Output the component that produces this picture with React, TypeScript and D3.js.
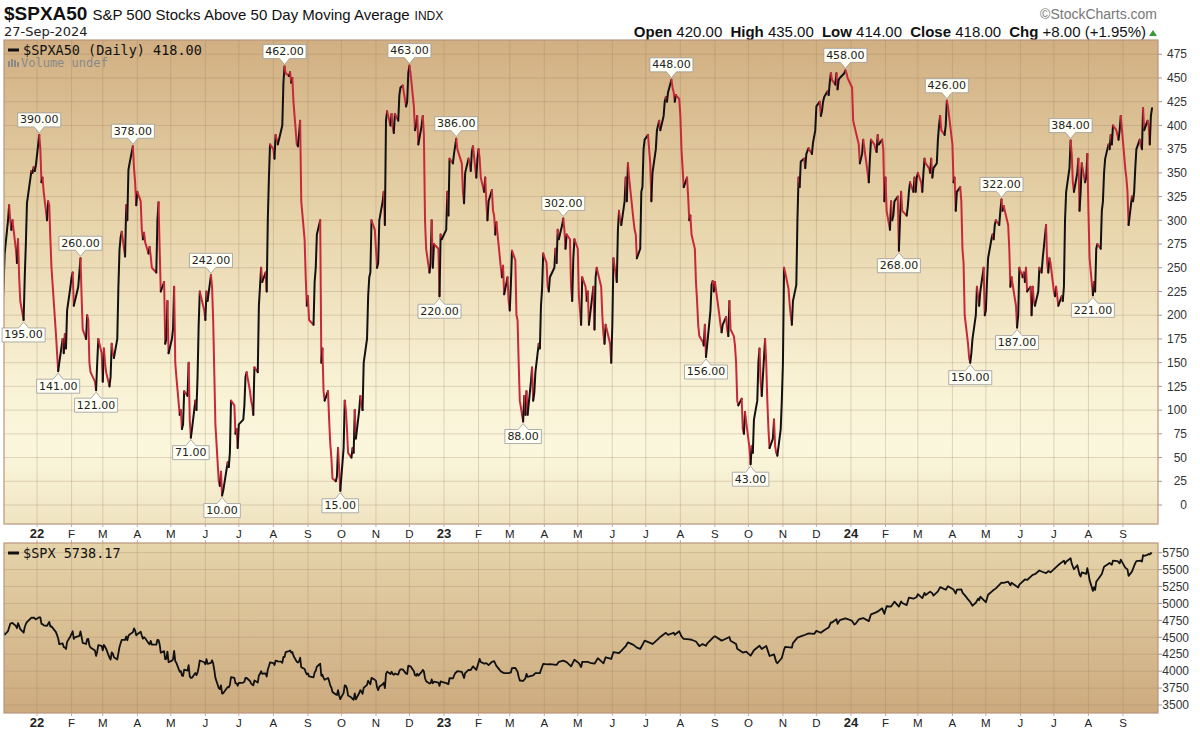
import React from "react";
import * as d3 from "d3";

type Row = [string, number];

// $SPXA50 daily closes (MM-DD, value) per year
const spxa50_2021: Row[] = [
  ["12-01",205],["12-02",230],["12-03",265],["12-06",300],["12-07",316],["12-08",300],["12-09",290],["12-10",300],
  ["12-13",270],["12-14",255],["12-15",280],["12-16",240],["12-17",215],["12-20",195],["12-21",240],["12-22",275],
  ["12-23",318],["12-27",352],["12-28",350],["12-29",356],["12-30",352],["12-31",358],
];
const spxa50_2022: Row[] = [
  ["01-03",390],["01-04",375],["01-05",340],["01-06",345],["01-07",330],["01-10",300],["01-11",320],["01-12",316],
  ["01-13",280],["01-14",250],["01-18",180],["01-19",160],["01-20",141],["01-21",150],["01-24",175],["01-25",160],
  ["01-26",180],["01-27",165],["01-28",205],["01-31",230],["02-01",240],["02-02",245],["02-03",210],["02-04",215],
  ["02-07",230],["02-08",245],["02-09",260],["02-10",220],["02-11",185],["02-14",175],["02-15",200],["02-16",195],
  ["02-17",150],["02-18",140],["02-22",130],["02-23",121],["02-24",150],["02-25",175],["02-28",160],["03-01",130],
  ["03-02",165],["03-03",150],["03-04",140],["03-07",125],["03-08",135],["03-09",170],["03-10",160],["03-11",155],
  ["03-14",175],["03-15",230],["03-16",269],["03-17",282],["03-18",288],["03-21",262],["03-22",316],["03-23",300],
  ["03-24",353],["03-25",360],["03-28",378],["03-29",355],["03-30",340],["03-31",316],["04-01",330],["04-04",320],
  ["04-05",290],["04-06",280],["04-07",287],["04-08",277],["04-11",265],["04-12",272],["04-13",262],["04-14",250],
  ["04-18",245],["04-19",300],["04-20",319],["04-21",270],["04-22",225],["04-25",235],["04-26",170],["04-27",175],
  ["04-28",215],["04-29",160],["05-02",175],["05-03",185],["05-04",230],["05-05",150],["05-06",135],["05-09",95],
  ["05-10",100],["05-11",80],["05-12",85],["05-13",120],["05-16",115],["05-17",150],["05-18",90],["05-19",71],
  ["05-20",80],["05-23",110],["05-24",100],["05-25",135],["05-26",190],["05-27",225],["05-31",205],["06-01",195],
  ["06-02",225],["06-03",215],["06-06",242],["06-07",230],["06-08",195],["06-09",140],["06-10",85],["06-13",25],
  ["06-14",20],["06-15",35],["06-16",10],["06-17",15],["06-21",45],["06-22",40],["06-23",55],["06-24",110],
  ["06-27",105],["06-28",75],["06-29",80],["06-30",60],["07-01",85],["07-05",90],["07-06",105],["07-07",135],
  ["07-08",140],["07-11",120],["07-12",110],["07-13",105],["07-14",95],["07-15",145],["07-18",140],["07-19",210],
  ["07-20",230],["07-21",250],["07-22",235],["07-25",245],["07-26",225],["07-27",300],["07-28",345],["07-29",380],
  ["08-01",375],["08-02",365],["08-03",390],["08-04",385],["08-05",380],["08-08",395],["08-09",400],["08-10",445],
  ["08-11",462],["08-12",455],["08-15",452],["08-16",456],["08-17",445],["08-18",450],["08-19",425],["08-22",380],
  ["08-23",378],["08-24",390],["08-25",405],["08-26",320],["08-29",280],["08-30",240],["08-31",210],["09-01",220],
  ["09-02",195],["09-06",190],["09-07",235],["09-08",250],["09-09",285],["09-12",300],["09-13",150],["09-14",165],
  ["09-15",120],["09-16",110],["09-19",120],["09-20",90],["09-21",65],["09-22",50],["09-23",28],["09-26",25],
  ["09-27",30],["09-28",60],["09-29",38],["09-30",15],["10-03",60],["10-04",110],["10-05",100],["10-06",80],
  ["10-07",55],["10-10",50],["10-11",60],["10-12",55],["10-13",100],["10-14",70],["10-17",100],["10-18",115],
  ["10-19",105],["10-20",100],["10-21",150],["10-24",175],["10-25",220],["10-26",240],["10-27",245],["10-28",300],
  ["10-31",290],["11-01",270],["11-02",250],["11-03",255],["11-04",300],["11-07",320],["11-08",330],["11-09",295],
  ["11-10",405],["11-11",415],["11-14",400],["11-15",412],["11-16",398],["11-17",392],["11-18",412],["11-21",405],
  ["11-22",432],["11-23",440],["11-25",442],["11-28",420],["11-29",425],["11-30",455],["12-01",463],["12-02",455],
  ["12-05",420],["12-06",395],["12-07",400],["12-08",410],["12-09",380],["12-12",400],["12-13",410],["12-14",390],
  ["12-15",300],["12-16",270],["12-19",245],["12-20",255],["12-21",300],["12-22",250],["12-23",275],["12-27",270],
  ["12-28",220],["12-29",285],["12-30",280],
];
const spxa50_2023: Row[] = [
  ["01-03",290],["01-04",330],["01-05",305],["01-06",365],["01-09",360],["01-10",370],["01-11",378],["01-12",386],
  ["01-13",375],["01-17",360],["01-18",330],["01-19",318],["01-20",350],["01-23",365],["01-24",360],["01-25",352],
  ["01-26",372],["01-27",378],["01-30",345],["01-31",365],["02-01",375],["02-02",365],["02-03",345],["02-06",330],
  ["02-07",345],["02-08",318],["02-09",300],["02-10",320],["02-13",332],["02-14",310],["02-15",305],["02-16",285],
  ["02-17",298],["02-21",250],["02-22",240],["02-23",252],["02-24",222],["02-27",240],["02-28",215],["03-01",205],
  ["03-02",232],["03-03",268],["03-06",258],["03-07",200],["03-08",195],["03-09",150],["03-10",110],["03-13",88],
  ["03-14",115],["03-15",95],["03-16",120],["03-17",95],["03-20",130],["03-21",145],["03-22",110],["03-23",118],
  ["03-24",140],["03-27",170],["03-28",165],["03-29",210],["03-30",228],["03-31",265],["04-03",255],["04-04",230],
  ["04-05",225],["04-06",240],["04-10",250],["04-11",270],["04-12",255],["04-13",290],["04-14",280],["04-17",295],
  ["04-18",302],["04-19",290],["04-20",270],["04-21",285],["04-24",280],["04-25",230],["04-26",215],["04-27",260],
  ["04-28",280],["05-01",270],["05-02",220],["05-03",205],["05-04",190],["05-05",240],["05-08",230],["05-09",215],
  ["05-10",225],["05-11",190],["05-12",200],["05-15",230],["05-16",185],["05-17",240],["05-18",250],["05-19",245],
  ["05-22",230],["05-23",200],["05-24",180],["05-25",170],["05-26",190],["05-30",170],["05-31",150],["06-01",190],
  ["06-02",260],["06-05",235],["06-06",290],["06-07",310],["06-08",300],["06-09",295],["06-12",320],["06-13",345],
  ["06-14",320],["06-15",360],["06-16",345],["06-20",300],["06-21",290],["06-22",285],["06-23",260],["06-26",270],
  ["06-27",330],["06-28",335],["06-29",375],["06-30",385],["07-03",390],["07-05",360],["07-06",320],["07-07",350],
  ["07-10",375],["07-11",395],["07-12",400],["07-13",405],["07-14",395],["07-17",410],["07-18",425],["07-19",430],
  ["07-20",425],["07-21",435],["07-24",448],["07-25",440],["07-26",435],["07-27",425],["07-28",432],["07-31",428],
  ["08-01",410],["08-02",375],["08-03",355],["08-04",335],["08-07",345],["08-08",325],["08-09",300],["08-10",305],
  ["08-11",285],["08-14",270],["08-15",235],["08-16",215],["08-17",190],["08-18",178],["08-21",172],["08-22",168],
  ["08-23",190],["08-24",156],["08-25",168],["08-28",205],["08-29",232],["08-30",236],["08-31",225],["09-01",235],
  ["09-05",200],["09-06",190],["09-07",182],["09-08",190],["09-11",198],["09-12",185],["09-13",178],["09-14",215],
  ["09-15",185],["09-18",178],["09-19",168],["09-20",150],["09-21",110],["09-22",105],["09-25",112],["09-26",80],
  ["09-27",75],["09-28",98],["09-29",88],["10-02",60],["10-03",43],["10-04",62],["10-05",55],["10-06",90],
  ["10-09",110],["10-10",150],["10-11",165],["10-12",130],["10-13",115],["10-16",175],["10-17",150],["10-18",110],
  ["10-19",80],["10-20",60],["10-23",70],["10-24",90],["10-25",62],["10-26",55],["10-27",52],["10-30",80],
  ["10-31",110],["11-01",150],["11-02",250],["11-03",245],["11-06",228],["11-07",212],["11-08",200],["11-09",190],
  ["11-10",215],["11-13",232],["11-14",300],["11-15",345],["11-16",335],["11-17",362],["11-20",365],["11-21",355],
  ["11-22",370],["11-24",376],["11-27",370],["11-28",382],["11-29",388],["11-30",395],["12-01",420],["12-04",425],
  ["12-05",410],["12-06",415],["12-07",425],["12-08",430],["12-11",436],["12-12",432],["12-13",445],["12-14",455],
  ["12-15",448],["12-18",443],["12-19",455],["12-20",438],["12-21",448],["12-22",450],["12-26",455],["12-27",458],
  ["12-28",455],["12-29",450],
];
const spxa50_2024: Row[] = [
  ["01-02",440],["01-03",405],["01-04",400],["01-05",395],["01-08",380],["01-09",360],["01-10",365],["01-11",370],
  ["01-12",385],["01-16",350],["01-17",340],["01-18",365],["01-19",385],["01-22",380],["01-23",375],["01-24",372],
  ["01-25",390],["01-26",380],["01-29",385],["01-30",375],["01-31",320],["02-01",345],["02-02",310],["02-05",290],
  ["02-06",320],["02-07",300],["02-08",305],["02-09",320],["02-12",325],["02-13",268],["02-14",300],["02-15",330],
  ["02-16",310],["02-20",305],["02-21",315],["02-22",330],["02-23",340],["02-26",330],["02-27",345],["02-28",330],
  ["02-29",345],["03-01",350],["03-04",340],["03-05",330],["03-06",350],["03-07",365],["03-08",360],["03-11",355],
  ["03-12",350],["03-13",365],["03-14",345],["03-15",355],["03-18",360],["03-19",385],["03-20",400],["03-21",410],
  ["03-22",395],["03-25",390],["03-26",400],["03-27",426],["03-28",420],["04-01",380],["04-02",340],["04-03",345],
  ["04-04",310],["04-05",330],["04-08",335],["04-09",320],["04-10",270],["04-11",255],["04-12",200],["04-15",170],
  ["04-16",155],["04-17",150],["04-18",160],["04-19",175],["04-22",200],["04-23",230],["04-24",220],["04-25",210],
  ["04-26",225],["04-29",250],["04-30",200],["05-01",205],["05-02",235],["05-03",260],["05-06",280],["05-07",285],
  ["05-08",280],["05-09",295],["05-10",300],["05-13",295],["05-14",310],["05-15",322],["05-16",310],["05-17",315],
  ["05-20",300],["05-21",295],["05-22",270],["05-23",230],["05-24",240],["05-28",210],["05-29",187],["05-30",200],
  ["05-31",250],["06-03",240],["06-04",245],["06-05",235],["06-06",250],["06-07",225],["06-10",230],["06-11",200],
  ["06-12",230],["06-13",215],["06-14",210],["06-17",225],["06-18",250],["06-20",245],["06-21",260],["06-24",295],
  ["06-25",255],["06-26",245],["06-27",260],["06-28",255],["07-01",225],["07-02",220],["07-03",230],["07-05",210],
  ["07-08",220],["07-09",215],["07-10",230],["07-11",300],["07-12",330],["07-15",355],["07-16",384],["07-17",370],
  ["07-18",340],["07-19",330],["07-22",350],["07-23",365],["07-24",310],["07-25",330],["07-26",360],["07-29",340],
  ["07-30",345],["07-31",370],["08-01",310],["08-02",260],["08-05",221],["08-06",235],["08-07",225],["08-08",270],
  ["08-09",275],["08-12",270],["08-13",310],["08-14",320],["08-15",350],["08-16",365],["08-19",380],["08-20",375],
  ["08-21",390],["08-22",380],["08-23",400],["08-26",395],["08-27",390],["08-28",385],["08-29",395],["08-30",410],
  ["09-03",355],["09-04",345],["09-05",330],["09-06",295],["09-09",325],["09-10",320],["09-11",330],["09-12",355],
  ["09-13",375],["09-16",385],["09-17",378],["09-18",375],["09-19",418],["09-20",395],["09-23",405],["09-24",400],
  ["09-25",380],["09-26",410],["09-27",418],
];

// $SPX closes (MM-DD, value) per year
const spx_2021: Row[] = [
  ["12-01",4513],["12-02",4577],["12-03",4538],["12-06",4592],["12-08",4701],["12-10",4712],["12-13",4669],["12-14",4634],
  ["12-15",4709],["12-16",4668],["12-17",4620],["12-20",4568],["12-21",4649],["12-22",4697],["12-23",4725],["12-27",4791],
  ["12-28",4786],["12-29",4793],["12-30",4778],["12-31",4766],
];
const spx_2022: Row[] = [
  ["01-03",4796],["01-04",4793],["01-05",4700],["01-06",4696],["01-07",4677],["01-10",4670],["01-12",4726],["01-13",4659],
  ["01-14",4662],["01-18",4577],["01-19",4532],["01-20",4482],["01-21",4398],["01-24",4410],["01-25",4356],["01-26",4349],
  ["01-27",4326],["01-28",4432],["01-31",4516],["02-02",4589],["02-03",4477],["02-04",4500],["02-08",4521],["02-09",4587],
  ["02-10",4504],["02-11",4418],["02-14",4401],["02-15",4472],["02-16",4475],["02-17",4380],["02-18",4348],["02-22",4304],
  ["02-23",4225],["02-24",4288],["02-25",4385],["02-28",4374],["03-01",4306],["03-02",4387],["03-03",4363],["03-04",4329],
  ["03-07",4201],["03-08",4171],["03-09",4278],["03-10",4260],["03-11",4204],["03-14",4173],["03-15",4262],["03-16",4358],
  ["03-17",4412],["03-18",4463],["03-21",4461],["03-22",4512],["03-23",4457],["03-24",4520],["03-25",4543],["03-28",4575],
  ["03-29",4631],["03-30",4602],["03-31",4530],["04-01",4546],["04-04",4583],["04-05",4525],["04-06",4481],["04-07",4500],
  ["04-08",4488],["04-11",4413],["04-12",4397],["04-13",4447],["04-14",4392],["04-18",4391],["04-19",4463],["04-20",4459],
  ["04-21",4394],["04-22",4272],["04-25",4296],["04-26",4175],["04-27",4183],["04-28",4288],["04-29",4132],["05-02",4155],
  ["05-03",4175],["05-04",4300],["05-05",4147],["05-06",4123],["05-09",3991],["05-10",4001],["05-11",3935],["05-12",3930],
  ["05-13",4024],["05-16",4008],["05-17",4088],["05-18",3923],["05-19",3901],["05-20",3901],["05-23",3974],["05-24",3941],
  ["05-25",3979],["05-26",4058],["05-27",4158],["05-31",4132],["06-01",4101],["06-02",4177],["06-03",4109],["06-06",4121],
  ["06-07",4161],["06-08",4116],["06-09",4018],["06-10",3901],["06-13",3750],["06-14",3735],["06-15",3790],["06-16",3667],
  ["06-17",3675],["06-21",3765],["06-22",3760],["06-23",3796],["06-24",3912],["06-27",3900],["06-28",3821],["06-29",3819],
  ["06-30",3785],["07-01",3825],["07-05",3831],["07-06",3845],["07-07",3902],["07-08",3899],["07-11",3855],["07-12",3819],
  ["07-13",3802],["07-14",3790],["07-15",3863],["07-18",3831],["07-19",3937],["07-20",3960],["07-21",3999],["07-22",3962],
  ["07-25",3967],["07-26",3921],["07-27",4024],["07-28",4073],["07-29",4130],["08-01",4119],["08-02",4091],["08-03",4155],
  ["08-04",4152],["08-05",4145],["08-08",4140],["08-09",4122],["08-10",4210],["08-11",4207],["08-12",4280],["08-15",4297],
  ["08-16",4305],["08-17",4274],["08-18",4284],["08-19",4228],["08-22",4138],["08-23",4128],["08-24",4141],["08-25",4199],
  ["08-26",4058],["08-29",4031],["08-30",3986],["08-31",3955],["09-01",3967],["09-02",3924],["09-06",3908],["09-07",3980],
  ["09-08",4006],["09-09",4067],["09-12",4110],["09-13",3932],["09-14",3946],["09-15",3901],["09-16",3873],["09-19",3900],
  ["09-20",3856],["09-21",3790],["09-22",3758],["09-23",3693],["09-26",3655],["09-27",3647],["09-28",3719],["09-29",3640],
  ["09-30",3586],["10-03",3679],["10-04",3791],["10-05",3783],["10-06",3745],["10-07",3640],["10-10",3612],["10-11",3589],
  ["10-12",3577],["10-13",3670],["10-14",3583],["10-17",3677],["10-18",3720],["10-19",3695],["10-20",3665],["10-21",3752],
  ["10-24",3797],["10-25",3859],["10-26",3831],["10-27",3807],["10-28",3901],["10-31",3872],["11-01",3856],["11-02",3759],
  ["11-03",3720],["11-04",3771],["11-07",3807],["11-08",3828],["11-09",3749],["11-10",3956],["11-11",3993],["11-14",3957],
  ["11-15",3992],["11-16",3959],["11-17",3947],["11-18",3965],["11-21",3950],["11-22",4003],["11-23",4027],["11-25",4026],
  ["11-28",3964],["11-29",3958],["11-30",4080],["12-01",4076],["12-02",4072],["12-05",3999],["12-06",3941],["12-07",3933],
  ["12-08",3963],["12-09",3934],["12-12",3990],["12-13",4019],["12-14",3995],["12-15",3896],["12-16",3852],["12-19",3818],
  ["12-20",3822],["12-21",3878],["12-22",3822],["12-23",3845],["12-27",3829],["12-28",3783],["12-29",3849],["12-30",3840],
];
const spx_2023: Row[] = [
  ["01-03",3824],["01-05",3808],["01-06",3895],["01-09",3892],["01-11",3969],["01-13",3999],["01-17",3990],["01-19",3899],
  ["01-20",3972],["01-23",4019],["01-25",4016],["01-27",4071],["01-30",4018],["02-02",4180],["02-03",4136],["02-06",4111],
  ["02-08",4118],["02-10",4090],["02-13",4137],["02-15",4148],["02-17",4079],["02-21",3997],["02-24",3970],["02-28",3970],
  ["03-02",3981],["03-03",4046],["03-06",4048],["03-08",3992],["03-09",3918],["03-10",3862],["03-13",3855],["03-15",3892],
  ["03-16",3960],["03-17",3917],["03-22",3937],["03-24",3971],["03-28",3971],["03-31",4109],["04-04",4100],["04-06",4105],
  ["04-12",4092],["04-14",4138],["04-18",4155],["04-21",4133],["04-25",4071],["04-28",4169],["05-02",4119],["05-04",4061],
  ["05-05",4136],["05-10",4137],["05-12",4124],["05-16",4110],["05-19",4192],["05-24",4115],["05-26",4205],["05-31",4180],
  ["06-02",4282],["06-07",4268],["06-09",4299],["06-13",4369],["06-15",4426],["06-20",4388],["06-23",4348],["06-26",4328],
  ["06-30",4450],["07-06",4411],["07-07",4399],["07-12",4473],["07-14",4505],["07-19",4566],["07-21",4536],["07-26",4567],
  ["07-27",4537],["07-31",4589],["08-02",4513],["08-04",4478],["08-09",4468],["08-11",4464],["08-15",4438],["08-18",4370],
  ["08-21",4400],["08-24",4376],["08-25",4406],["08-31",4508],["09-01",4516],["09-07",4451],["09-08",4457],["09-14",4505],
  ["09-15",4450],["09-20",4402],["09-21",4330],["09-26",4274],["09-29",4288],["10-03",4229],["10-06",4308],["10-11",4376],
  ["10-13",4328],["10-17",4373],["10-20",4224],["10-24",4248],["10-26",4137],["10-27",4117],["10-31",4194],["11-02",4318],
  ["11-03",4358],["11-09",4347],["11-10",4415],["11-14",4496],["11-17",4514],["11-21",4538],["11-24",4559],["11-29",4551],
  ["12-01",4595],["12-05",4567],["12-08",4604],["12-12",4644],["12-14",4720],["12-15",4719],["12-19",4768],["12-20",4698],
  ["12-22",4754],["12-27",4781],["12-29",4770],
];
const spx_2024: Row[] = [
  ["01-02",4743],["01-04",4688],["01-05",4697],["01-08",4764],["01-11",4780],["01-12",4784],["01-17",4739],["01-19",4840],
  ["01-23",4865],["01-26",4891],["01-29",4928],["01-31",4846],["02-01",4906],["02-02",4959],["02-06",4954],["02-09",5027],
  ["02-13",4953],["02-15",5030],["02-16",5006],["02-20",4976],["02-22",5087],["02-26",5070],["02-29",5096],["03-01",5137],
  ["03-05",5079],["03-07",5157],["03-08",5124],["03-12",5175],["03-14",5150],["03-15",5117],["03-19",5179],["03-21",5241],
  ["03-22",5234],["03-26",5203],["03-28",5254],["04-02",5205],["04-04",5147],["04-05",5204],["04-09",5209],["04-10",5161],
  ["04-12",5123],["04-15",5061],["04-17",5022],["04-19",4967],["04-22",5011],["04-24",5071],["04-25",5048],["04-26",5100],
  ["04-30",5036],["05-01",5018],["05-03",5128],["05-07",5187],["05-10",5223],["05-15",5308],["05-17",5303],["05-21",5321],
  ["05-23",5268],["05-24",5305],["05-30",5236],["05-31",5278],["06-05",5354],["06-07",5347],["06-12",5421],["06-14",5432],
  ["06-18",5487],["06-21",5465],["06-24",5448],["06-26",5478],["06-28",5460],["07-03",5537],["07-05",5567],["07-10",5633],
  ["07-11",5585],["07-12",5615],["07-16",5667],["07-17",5589],["07-19",5505],["07-22",5564],["07-24",5427],["07-25",5399],
  ["07-26",5459],["07-30",5436],["07-31",5522],["08-01",5446],["08-02",5346],["08-05",5186],["08-06",5240],["08-07",5199],
  ["08-08",5319],["08-09",5344],["08-13",5434],["08-15",5543],["08-16",5554],["08-20",5597],["08-22",5571],["08-23",5634],
  ["08-27",5625],["08-29",5592],["08-30",5648],["09-03",5529],["09-05",5503],["09-06",5408],["09-09",5471],["09-11",5554],
  ["09-12",5596],["09-13",5626],["09-17",5634],["09-18",5618],["09-19",5713],["09-20",5703],["09-23",5718],["09-24",5732],
  ["09-25",5722],["09-26",5745],["09-27",5738],
];

// Annotated highs/lows
const annotationDates: string[] = [
  "2021-12-20","2022-01-03","2022-01-20","2022-02-09","2022-02-23","2022-03-28","2022-05-19","2022-06-06","2022-06-16",
  "2022-08-11","2022-09-30","2022-12-01","2022-12-28","2023-01-12","2023-03-13","2023-04-18","2023-07-24","2023-08-24",
  "2023-10-03","2023-12-27","2024-02-13","2024-03-27","2024-04-17","2024-05-15","2024-05-29","2024-07-16","2024-08-05",
];
const annotationKinds: string[] = [
  "low","high","low","high","low","high","low","high","low",
  "high","low","high","low","high","low","high","high","low",
  "low","high","low","high","low","high","low","high","low",
];

const topTicks = [0,25,50,75,100,125,150,175,200,225,250,275,300,325,350,375,400,425,450,475];
const bottomTicks = [3500,3750,4000,4250,4500,4750,5000,5250,5500,5750];

const parseDate = d3.timeParse("%Y-%m-%d");
const toSeries = (year: number, rows: Row[]) =>
  rows.map(([md, v]) => ({ date: parseDate(`${year}-${md}`) as Date, value: v }));

const SANS = "'Liberation Sans', Arial, sans-serif";
const MONO = "'DejaVu Sans Mono', monospace";
const DJV = "'DejaVu Sans', sans-serif";

export default function App() {
  const W = 1200, H = 732;
  const L = 4, R = 1158;
  const tT = 40, tB = 524, bT = 543, bB = 713;

  const top = [
    ...toSeries(2021, spxa50_2021), ...toSeries(2022, spxa50_2022),
    ...toSeries(2023, spxa50_2023), ...toSeries(2024, spxa50_2024),
  ];
  const spx = [
    ...toSeries(2021, spx_2021), ...toSeries(2022, spx_2022),
    ...toSeries(2023, spx_2023), ...toSeries(2024, spx_2024),
  ];

  const x = d3.scaleTime()
    .domain([parseDate("2022-01-01") as Date, parseDate("2024-09-27") as Date])
    .range([37, 1152]);
  const yT = d3.scaleLinear().domain([-20, 490]).range([tB, tT]);
  const yB = d3.scaleLinear().domain([3382, 5893]).range([bB, bT]);

  const months = d3.timeMonth.range(new Date(2022, 0, 1), new Date(2024, 9, 1));
  const fmtYear = d3.timeFormat("%y");
  const fmtMon = d3.timeFormat("%b");

  const BLACK = "#111111", RED = "#c92839";
  const runs: { color: string; pts: { date: Date; value: number }[] }[] = [];
  for (let i = 1; i < top.length; i++) {
    const color = top[i].value >= top[i - 1].value ? BLACK : RED;
    const last = runs[runs.length - 1];
    if (last && last.color === color) last.pts.push(top[i]);
    else runs.push({ color, pts: [top[i - 1], top[i]] });
  }
  const lineTop = d3.line<{ date: Date; value: number }>().x(d => x(d.date)).y(d => yT(d.value));
  const lineBot = d3.line<{ date: Date; value: number }>().x(d => x(d.date)).y(d => yB(d.value));

  const fmtKey = d3.timeFormat("%Y-%m-%d");
  const byDate = new Map(top.map(d => [fmtKey(d.date), d]));
  const annotations = annotationDates.map((ds, i) => {
    const d = byDate.get(ds)!;
    return { date: d.date, value: d.value, kind: annotationKinds[i] };
  });

  const gridColor = "#9c7a5c";
  const borderColor = "#b8977e";

  return (
    <svg width={W} height={H} style={{ position: "absolute", left: 0, top: 0, display: "block", background: "#fff" }}>
      <defs>
        <linearGradient id="topBg" x1="0" y1="0" x2="0" y2="1">
          <stop offset="0" stopColor="#d1af82" />
          <stop offset="0.35" stopColor="#e6d2a8" />
          <stop offset="0.7" stopColor="#f8f1d4" />
          <stop offset="0.85" stopColor="#fbf7dd" />
          <stop offset="1" stopColor="#efe3c0" />
        </linearGradient>
        <linearGradient id="botBg" x1="0" y1="0" x2="0" y2="1">
          <stop offset="0" stopColor="#e6d4aa" />
          <stop offset="1" stopColor="#ccaa7e" />
        </linearGradient>
        <clipPath id="clipTop"><rect x={L} y={tT} width={R - L} height={tB - tT} /></clipPath>
        <clipPath id="clipBot"><rect x={L} y={bT} width={R - L} height={bB - bT} /></clipPath>
      </defs>

      {/* Header */}
      <text x={4} y={20} fontFamily={SANS} fill="#111">
        <tspan fontSize={19} fontWeight="bold">$SPXA50</tspan>
        <tspan fontSize={15} dx={5}>S&amp;P 500 Stocks Above 50 Day Moving Average</tspan>
        <tspan fontSize={12} dx={5}>INDX</tspan>
      </text>
      <text x={4} y={36} fontFamily={DJV} fontSize={13} fill="#222">27-Sep-2024</text>
      <text x={1157} y={19} fontFamily={SANS} fontSize={14} fill="#777" textAnchor="end">©StockCharts.com</text>
      <text x={1146} y={37} fontFamily={SANS} fontSize={15} fill="#111" textAnchor="end">
        <tspan fontWeight="bold">Open</tspan><tspan> 420.00  </tspan>
        <tspan fontWeight="bold" dx={4}>High</tspan><tspan> 435.00  </tspan>
        <tspan fontWeight="bold" dx={4}>Low</tspan><tspan> 414.00  </tspan>
        <tspan fontWeight="bold" dx={4}>Close</tspan><tspan> 418.00  </tspan>
        <tspan fontWeight="bold" dx={4}>Chg</tspan><tspan> +8.00 (+1.95%)</tspan>
      </text>
      <path d="M1149,36 L1157,36 L1153,30 Z" fill="#3a9a3a" />

      {/* Top panel */}
      <rect x={L} y={tT} width={R - L} height={tB - tT} fill="url(#topBg)" />
      <g clipPath="url(#clipTop)">
        {topTicks.map(t => (
          <line key={"hg" + t} x1={L} x2={R} y1={yT(t)} y2={yT(t)} stroke={gridColor} strokeOpacity={0.28} strokeWidth={1} />
        ))}
        {months.map(m => (
          <line key={"vg" + m.getTime()} x1={x(m)} x2={x(m)} y1={tT} y2={tB} stroke={gridColor} strokeOpacity={0.28} strokeWidth={1} />
        ))}
        {runs.map((r, i) => (
          <path key={"run" + i} d={lineTop(r.pts) || ""} fill="none" stroke={r.color} strokeWidth={2} strokeLinejoin="round" strokeLinecap="round" />
        ))}
      </g>
      <rect x={L} y={tT} width={R - L} height={tB - tT} fill="none" stroke={borderColor} strokeWidth={1.2} />

      {/* Top legend */}
      <line x1={8} x2={19} y1={50} y2={50} stroke="#111" strokeWidth={3} />
      <text x={23} y={55} fontFamily={MONO} fontSize={13.5} fill="#111">$SPXA50 (Daily) 418.00</text>
      <g fill="#8a8a8a">
        <rect x={8} y={61} width={2} height={6} />
        <rect x={11} y={59} width={2} height={8} />
        <rect x={14} y={60} width={2} height={7} />
        <rect x={17} y={62} width={2} height={5} />
      </g>
      <text x={21} y={67} fontFamily={MONO} fontSize={12} fill="#8a8a8a">Volume undef</text>

      {/* Annotations */}
      {annotations.map((a, i) => {
        const px = x(a.date);
        const py = yT(a.value);
        const label = a.value.toFixed(2);
        const w = label.length * 6.5 + 4;
        const h = 14;
        const x0 = px - w / 2, x1 = px + w / 2;
        if (a.kind === "high") {
          const tip = py - 2, base = py - 8, top0 = base - h;
          const d = `M${x0},${top0} H${x1} V${base} H${px + 5} L${px},${tip} L${px - 5},${base} H${x0} Z`;
          return (
            <g key={"an" + i}>
              <path d={d} fill="#fffff6" stroke="#9a9a9a" strokeWidth={0.8} />
              <text x={px} y={base - 3.5} textAnchor="middle" fontFamily={DJV} fontSize={11} fill="#222">{label}</text>
            </g>
          );
        }
        const tip = py + 2, base = py + 8, bot0 = base + h;
        const d = `M${x0},${bot0} H${x1} V${base} H${px + 5} L${px},${tip} L${px - 5},${base} H${x0} Z`;
        return (
          <g key={"an" + i}>
            <path d={d} fill="#fffff6" stroke="#9a9a9a" strokeWidth={0.8} />
            <text x={px} y={bot0 - 3.5} textAnchor="middle" fontFamily={DJV} fontSize={11} fill="#222">{label}</text>
          </g>
        );
      })}

      {/* Top right axis */}
      {topTicks.map(t => (
        <g key={"ty" + t}>
          <line x1={R} x2={R + 4} y1={yT(t)} y2={yT(t)} stroke="#999" />
          <text x={1187} y={yT(t)} dy="0.35em" textAnchor="end" fontFamily={SANS} fontSize={12} fill="#333">{t}</text>
        </g>
      ))}

      {/* Middle date axis */}
      {months.map(m => {
        const isYear = m.getMonth() === 0;
        return (
          <g key={"mx" + m.getTime()}>
            <line x1={x(m)} x2={x(m)} y1={tB} y2={tB + 3} stroke="#c9a99a" />
            <line x1={x(m)} x2={x(m)} y1={bT - 3} y2={bT} stroke="#c9a99a" />
            <text x={x(m)} y={538} textAnchor="middle" fontFamily={SANS} fontSize={isYear ? 13 : 11.5} fontWeight={isYear ? "bold" : "normal"} fill="#222">
              {isYear ? fmtYear(m) : fmtMon(m)[0]}
            </text>
          </g>
        );
      })}

      {/* Bottom panel */}
      <rect x={L} y={bT} width={R - L} height={bB - bT} fill="url(#botBg)" />
      <g clipPath="url(#clipBot)">
        {bottomTicks.map(t => (
          <line key={"bhg" + t} x1={L} x2={R} y1={yB(t)} y2={yB(t)} stroke={gridColor} strokeOpacity={0.28} />
        ))}
        {months.map(m => (
          <line key={"bvg" + m.getTime()} x1={x(m)} x2={x(m)} y1={bT} y2={bB} stroke={gridColor} strokeOpacity={0.28} />
        ))}
        <path d={lineBot(spx) || ""} fill="none" stroke="#111" strokeWidth={1.8} strokeLinejoin="round" />
      </g>
      <rect x={L} y={bT} width={R - L} height={bB - bT} fill="none" stroke={borderColor} strokeWidth={1.2} />
      <line x1={8} x2={19} y1={553} y2={553} stroke="#111" strokeWidth={3} />
      <text x={23} y={558} fontFamily={MONO} fontSize={13.5} fill="#111">$SPX 5738.17</text>

      {bottomTicks.map(t => (
        <g key={"by" + t}>
          <line x1={R} x2={R + 4} y1={yB(t)} y2={yB(t)} stroke="#999" />
          <text x={1189} y={yB(t)} dy="0.35em" textAnchor="end" fontFamily={SANS} fontSize={12} fill="#333">{t}</text>
        </g>
      ))}

      {/* Bottom date axis */}
      {months.map(m => {
        const isYear = m.getMonth() === 0;
        return (
          <g key={"bx" + m.getTime()}>
            <line x1={x(m)} x2={x(m)} y1={bB} y2={bB + 3} stroke="#c9a99a" />
            <text x={x(m)} y={727} textAnchor="middle" fontFamily={SANS} fontSize={isYear ? 13 : 11.5} fontWeight={isYear ? "bold" : "normal"} fill="#222">
              {isYear ? fmtYear(m) : fmtMon(m)[0]}
            </text>
          </g>
        );
      })}
    </svg>
  );
}
